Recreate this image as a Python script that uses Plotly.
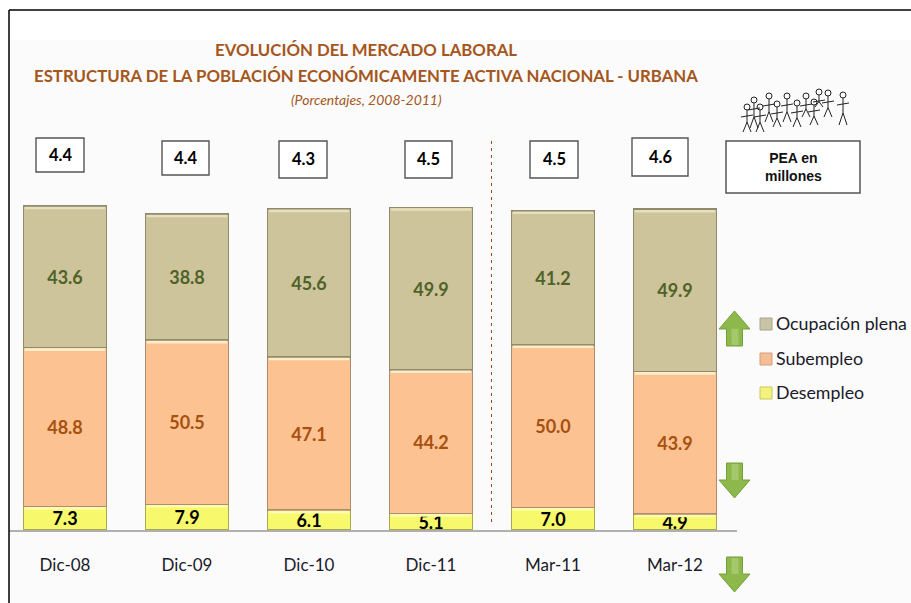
import plotly.graph_objects as go

W, H = 911, 603
categories = ["Dic-08", "Dic-09", "Dic-10", "Dic-11", "Mar-11", "Mar-12"]
desempleo = [7.3, 7.9, 6.1, 5.1, 7.0, 4.9]
subempleo = [48.8, 50.5, 47.1, 44.2, 50.0, 43.9]
ocupacion = [43.6, 38.8, 45.6, 49.9, 41.2, 49.9]
pea = ["4.4", "4.4", "4.3", "4.5", "4.5", "4.6"]
pea_boxes = [(36, 138, 84, 172), (162, 141, 209, 175), (279, 141, 327, 178),
             (405, 141, 452, 178), (530, 141, 578, 178), (632, 138, 688, 176)]
FONT = "Lato"


def px(x):
    return x / W


def py(y):
    return 1 - y / H


def rect(x0, y0, x1, y1, **kw):
    return dict(type="rect", xref="paper", yref="paper", x0=px(x0), x1=px(x1),
                y0=py(y0), y1=py(y1), **kw)


def pline(pts, color, width=1, dash=None, fill=None):
    path = "M" + " L".join(f"{px(a):.5f},{py(b):.5f}" for a, b in pts)
    if fill:
        path += " Z"
    return dict(type="path", xref="paper", yref="paper", path=path,
                line=dict(color=color, width=width, dash=dash),
                fillcolor=fill, layer="above")


fig = go.Figure()
series = [
    ("Desempleo", desempleo, "#f8f86c", "#a8a850", "#000000", "#fdfdb0"),
    ("Subempleo", subempleo, "#fcc291", "#b08c6c", "#a8500f", "#ffedc8"),
    ("Ocupación plena", ocupacion, "#cdc49c", "#8f8a6c", "#4f6228", "#e6dfbe"),
]
shapes = [
    rect(9, 40, W, H, fillcolor="#fbfbfb", line=dict(width=0), layer="below"),
    dict(type="line", xref="paper", yref="paper", x0=px(9), x1=px(9), y0=py(10), y1=0,
         line=dict(color="#000000", width=1.5)),
    dict(type="line", xref="paper", yref="paper", x0=px(9), x1=1, y0=py(10), y1=py(10),
         line=dict(color="#000000", width=1.5)),
    pline([(491.5, 141), (491.5, 525)], "#9a4a1a", 1, "3px,4px"),
    rect(726, 141, 860, 193, fillcolor="#ffffff", line=dict(color="#555555", width=1.5)),
]
base = [0.0] * len(categories)
for name, vals, col, edge, tcol, hi in series:
    fig.add_trace(go.Bar(
        x=categories, y=vals, name=name,
        marker=dict(color=col, line=dict(color=edge, width=1.5)),
        text=[f"{v:.1f}" for v in vals], textposition="inside", constraintext="none",
        insidetextanchor="middle", textangle=0,
        textfont=dict(family=FONT, size=18, color=tcol, weight="bold"),
        hoverinfo="skip", showlegend=False,
    ))
    # bevel highlight along the top of each stacked segment, placed from the data
    for i, v in enumerate(vals):
        top = base[i] + v
        shapes.append(dict(type="rect", xref="x", yref="y", x0=i - 0.33, x1=i + 0.33,
                           y0=top - 1.0, y1=top - 0.2, fillcolor=hi, line=dict(width=0), layer="above"))
        base[i] = top

annots = []


def text(x, y, s, size, color="#000000", bold=False, italic=False, anchor="center", family=FONT):
    annots.append(dict(
        xref="paper", yref="paper", x=px(x), y=py(y), text=s, showarrow=False,
        xanchor=anchor, yanchor="middle", align="center",
        font=dict(family=family, size=size, color=color,
                  weight="bold" if bold else "normal",
                  style="italic" if italic else "normal"),
    ))


text(366, 50, "EVOLUCIÓN DEL MERCADO LABORAL", 16.8, "#a5561b", True)
text(366, 75, "ESTRUCTURA DE LA POBLACIÓN ECONÓMICAMENTE ACTIVA NACIONAL - URBANA", 16.8, "#a5561b", True)
text(366, 99, "(Porcentajes, 2008-2011)", 14, "#a5561b", False, True)

for (x0, y0, x1, y1), v in zip(pea_boxes, pea):
    shapes.append(rect(x0, y0, x1, y1, fillcolor="#ffffff", line=dict(color="#555555", width=1.4)))
    text((x0 + x1) / 2, (y0 + y1) / 2, v, 16.5, "#000000", True)
text(793, 167, "PEA en<br>millones", 14, "#111111", True, family="Liberation Sans")


def arrow(cx, top, bottom, up):
    hw, sw, hh = 15.5, 8, 18
    if up:
        pts = [(cx, top), (cx + hw, top + hh), (cx + sw, top + hh), (cx + sw, bottom),
               (cx - sw, bottom), (cx - sw, top + hh), (cx - hw, top + hh)]
        strip = [(cx - 3, top + hh), (cx + 4, top + hh), (cx + 4, bottom - 1), (cx - 3, bottom - 1)]
    else:
        pts = [(cx, bottom), (cx + hw, bottom - hh), (cx + sw, bottom - hh), (cx + sw, top),
               (cx - sw, top), (cx - sw, bottom - hh), (cx - hw, bottom - hh)]
        strip = [(cx - 3, top + 1), (cx + 4, top + 1), (cx + 4, bottom - hh), (cx - 3, bottom - hh)]
    shapes.append(pline(pts, "#76a03a", 1, None, "#8db84c"))
    shapes.append(pline(strip, "rgba(0,0,0,0)", 0, None, "#a5c86a"))


arrow(734.5, 311, 346, True)
arrow(734.5, 463, 498, False)
arrow(734.5, 557, 592, False)

people = [(747, 107, 25), (754, 100, 28), (760, 107, 25), (769, 96, 26), (777, 104, 23), (787, 96, 26),
          (797, 103, 24), (806, 96, 21), (814, 102, 23), (819, 92, 15), (828, 93, 24), (843, 95, 30)]
INK = "#222222"
for x, y, h in people:
    shapes.append(dict(type="circle", xref="paper", yref="paper", x0=px(x - 3), x1=px(x + 3),
                       y0=py(y + 3), y1=py(y - 3), line=dict(color=INK, width=1),
                       fillcolor="rgba(0,0,0,0)"))
    hip = y + 3 + (h - 3) * 0.55
    shapes.append(pline([(x, y + 3), (x, hip)], INK, 1))
    shapes.append(pline([(x - 6, y + 10), (x + 6, y + 8)], INK, 1))
    shapes.append(pline([(x - 4, y + h), (x, hip), (x + 4, y + h)], INK, 1))

legend_rows = [
    ("Ocupación plena", 324, "#c9c4a8", "#a8a488"),
    ("Subempleo", 359, "#f4bd94", "#d0a07c"),
    ("Desempleo", 393, "#f2f27c", "#c8c860"),
]
for name, yc, col, edge in legend_rows:
    shapes.append(rect(760, yc - 6, 772, yc + 6, fillcolor=col, line=dict(color=edge, width=1)))
    text(774, yc - 1, name, 17.8, "#1a1a2a", anchor="left")

x_per_cat = 122
first_center = 65
fig.update_layout(
    width=W, height=H, barmode="stack", bargap=0.32,
    margin=dict(l=0, r=0, t=0, b=0), paper_bgcolor="#ffffff", plot_bgcolor="rgba(0,0,0,0)",
    font=dict(family=FONT), showlegend=False,
    xaxis=dict(domain=[px(9), px(737)],
               range=[(9 - first_center) / x_per_cat, (737 - first_center) / x_per_cat],
               showgrid=False, ticks="", showline=True, linecolor="#b0b0b0",
               linewidth=1.5, ticklabelstandoff=19, tickfont=dict(family=FONT, size=17, color="#1a1a2a")),
    yaxis=dict(domain=[py(530), py(205)], range=[0, 100], visible=False),
    shapes=shapes, annotations=annots,
)
fig.write_html("out.html", config={"displayModeBar": False},
               post_script="document.body.style.margin='0';document.body.style.overflow='hidden';")
